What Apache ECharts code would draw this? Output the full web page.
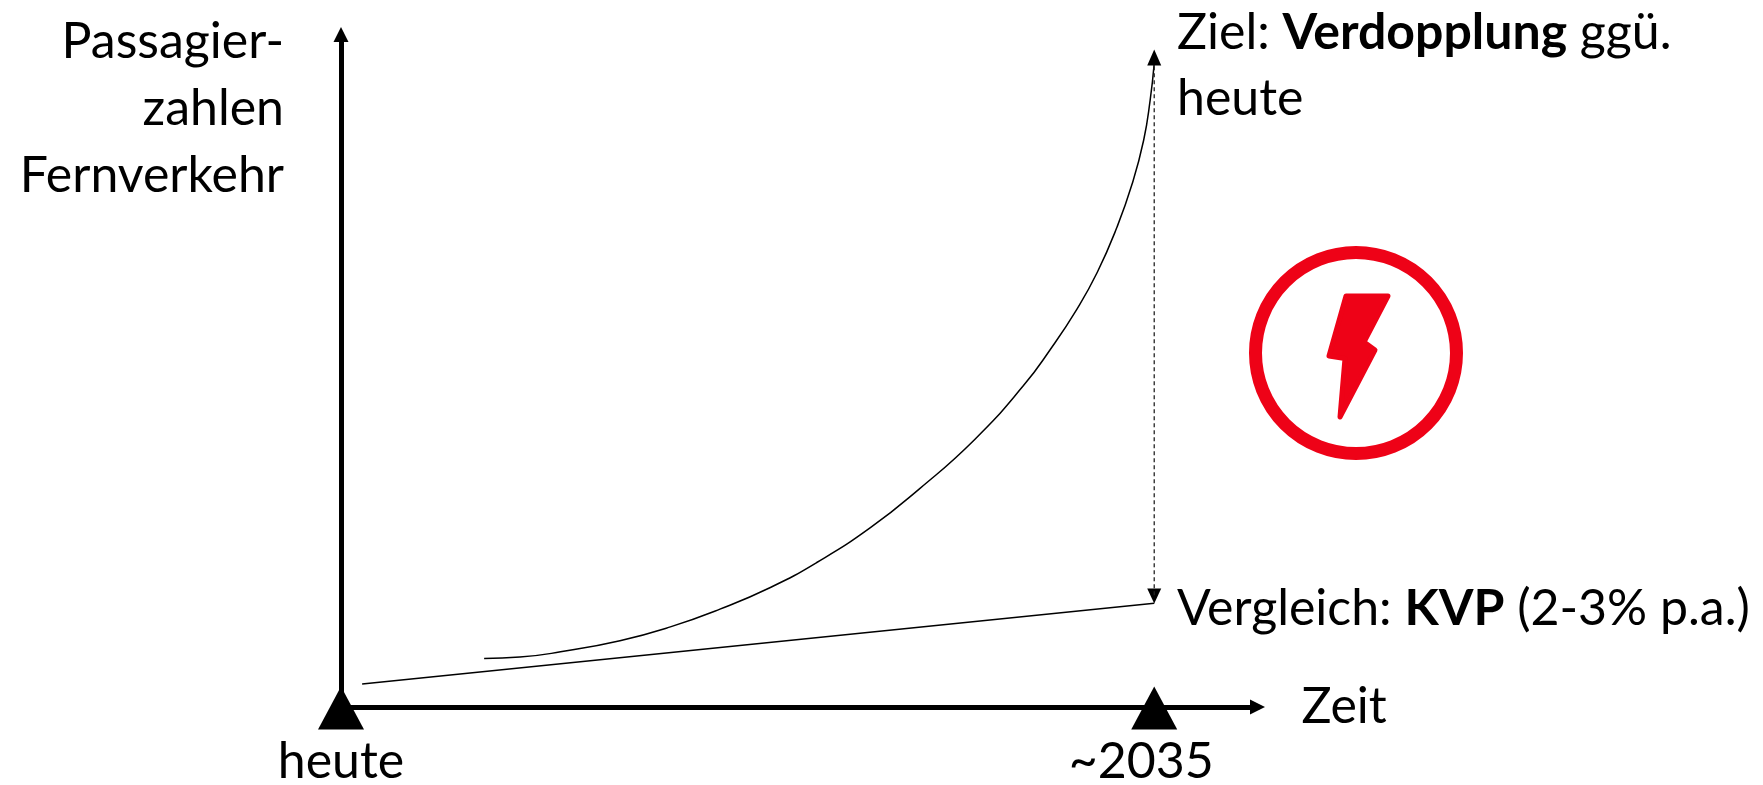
<!DOCTYPE html>
<html>
<head>
<meta charset="utf-8">
<title>Passagierzahlen Fernverkehr</title>
<style>
  html, body { margin: 0; padding: 0; background: #fff; }
  #chart { width: 1763px; height: 785px; }
</style>
<script src="https://cdn.jsdelivr.net/npm/echarts@6/dist/echarts.min.js"></script>
</head>
<body>
<div id="chart"></div>
<script>
// x: 0 = heute, 100 = ~2035; y: index, 100 = Ziel
const zielKurve = [
  [17.6, 7.4], [22, 7.6], [27, 8.4], [34.3, 10.1], [40.5, 12.2], [46.6, 14.9],
  [52.8, 18.2], [58.5, 22.0], [65.1, 27.3], [71.2, 33.3], [77.9, 40.7], [83.9, 48.9], [87.2, 54.4],
  [90.5, 60.6], [93.0, 66.2], [95.4, 73.0], [97.3, 79.7], [98.7, 86.3], [99.5, 92.4], [100, 98]
]
const kvpLinie = [[2.6, 3.5], [100, 15.8]]
const differenz = [[100, 17], [100, 98]]
const pfeilOben = [[100, 98.9]]
const pfeilUnten = [[100, 16.9]]
const marken = [[0, 0], [100, 0]]
const xTicks = [0, 100]
const xTickLabels = { 0: 'heute', 100: '{verschoben|~2035}' }

const font = 'Lato, Carlito, sans-serif'
const fontSize = 50
const black = '#000'
const red = '#ee0217'

const chart = echarts.init(document.getElementById('chart'), null, { renderer: 'canvas' })

const thinLine = {
  type: 'line',
  showSymbol: false,
  silent: true,
  lineStyle: { color: black, width: 1.5 }
}

chart.setOption({
  animation: false,
  backgroundColor: '#fff',
  grid: { left: 341, top: 34.5, width: 916.5, height: 672.5, outerBoundsMode: 'none' },
  xAxis: {
    type: 'value',
    min: 0,
    max: 112.7,
    name: 'Zeit',
    nameLocation: 'end',
    nameGap: 44,
    nameTextStyle: { color: black, fontFamily: font, fontSize: fontSize, padding: [4, 0, 0, 0] },
    splitLine: { show: false },
    axisTick: { show: false },
    axisLine: {
      onZero: false,
      symbol: ['none', 'triangle'],
      symbolSize: [15, 15],
      lineStyle: { color: black, width: 5 }
    },
    axisLabel: {
      customValues: xTicks,
      formatter: v => xTickLabels[v],
      color: black,
      fontFamily: font,
      fontSize: fontSize,
      margin: 30,
      hideOverlap: false,
      rich: {
        verschoben: { fontFamily: font, fontSize: fontSize, color: black, padding: [0, 26, 0, 0] }
      }
    }
  },
  yAxis: {
    type: 'value',
    min: 0,
    max: 102.4,
    name: 'Passagier-\nzahlen\nFernverkehr',
    nameLocation: 'end',
    nameGap: 26,
    nameTextStyle: {
      color: black,
      fontFamily: font,
      fontSize: fontSize,
      lineHeight: 67,
      align: 'right',
      verticalAlign: 'top',
      padding: [0, 57, 0, 0]
    },
    splitLine: { show: false },
    axisTick: { show: false },
    axisLabel: { show: false },
    axisLine: {
      onZero: false,
      symbol: ['none', 'triangle'],
      symbolSize: [15, 15],
      lineStyle: { color: black, width: 5 }
    }
  },
  series: [
    Object.assign({}, thinLine, { name: 'Ziel', data: zielKurve, smooth: 0.5 }),
    Object.assign({}, thinLine, { name: 'KVP', data: kvpLinie }),
    {
      name: 'Differenz',
      type: 'line',
      showSymbol: false,
      silent: true,
      data: differenz,
      lineStyle: { color: '#222', width: 1.3, type: [4, 3] }
    },
    {
      type: 'scatter',
      silent: true,
      data: pfeilOben,
      symbol: 'triangle',
      symbolSize: [14, 16],
      itemStyle: { color: black, opacity: 1 }
    },
    {
      type: 'scatter',
      silent: true,
      data: pfeilUnten,
      symbol: 'triangle',
      symbolRotate: 180,
      symbolSize: [14, 15],
      itemStyle: { color: black, opacity: 1 }
    },
    {
      type: 'scatter',
      silent: true,
      data: marken,
      symbol: 'triangle',
      symbolSize: [46, 43],
      symbolOffset: [0, 1],
      itemStyle: { color: black, opacity: 1 },
      z: 5
    }
  ],
  graphic: [
    {
      type: 'text',
      left: 1177,
      top: 0,
      style: {
        text: 'Ziel: {b|Verdopplung} ggü.\nheute',
        fill: black,
        font: fontSize + 'px ' + font,
        lineHeight: 66,
        rich: { b: { fontWeight: 'bold', fontFamily: font, fontSize: fontSize, fill: black, lineHeight: 66 } }
      }
    },
    {
      type: 'text',
      left: 1177,
      top: 576,
      style: {
        text: 'Vergleich: {b|KVP} (2-3% p.a.)',
        fill: black,
        font: fontSize + 'px ' + font,
        lineHeight: 66,
        rich: { b: { fontWeight: 'bold', fontFamily: font, fontSize: fontSize, fill: black, lineHeight: 66 } }
      }
    },
    {
      type: 'circle',
      shape: { cx: 1356, cy: 353, r: 100.5 },
      style: { fill: 'none', stroke: red, lineWidth: 13 }
    },
    {
      type: 'polygon',
      shape: {
        points: [[1346, 296], [1388, 296], [1364, 342], [1375, 350], [1340, 417], [1340, 417], [1345, 358.5], [1329, 356]]
      },
      style: { fill: red, stroke: red, lineWidth: 5, lineJoin: 'round' }
    }
  ]
})
</script>
</body>
</html>
